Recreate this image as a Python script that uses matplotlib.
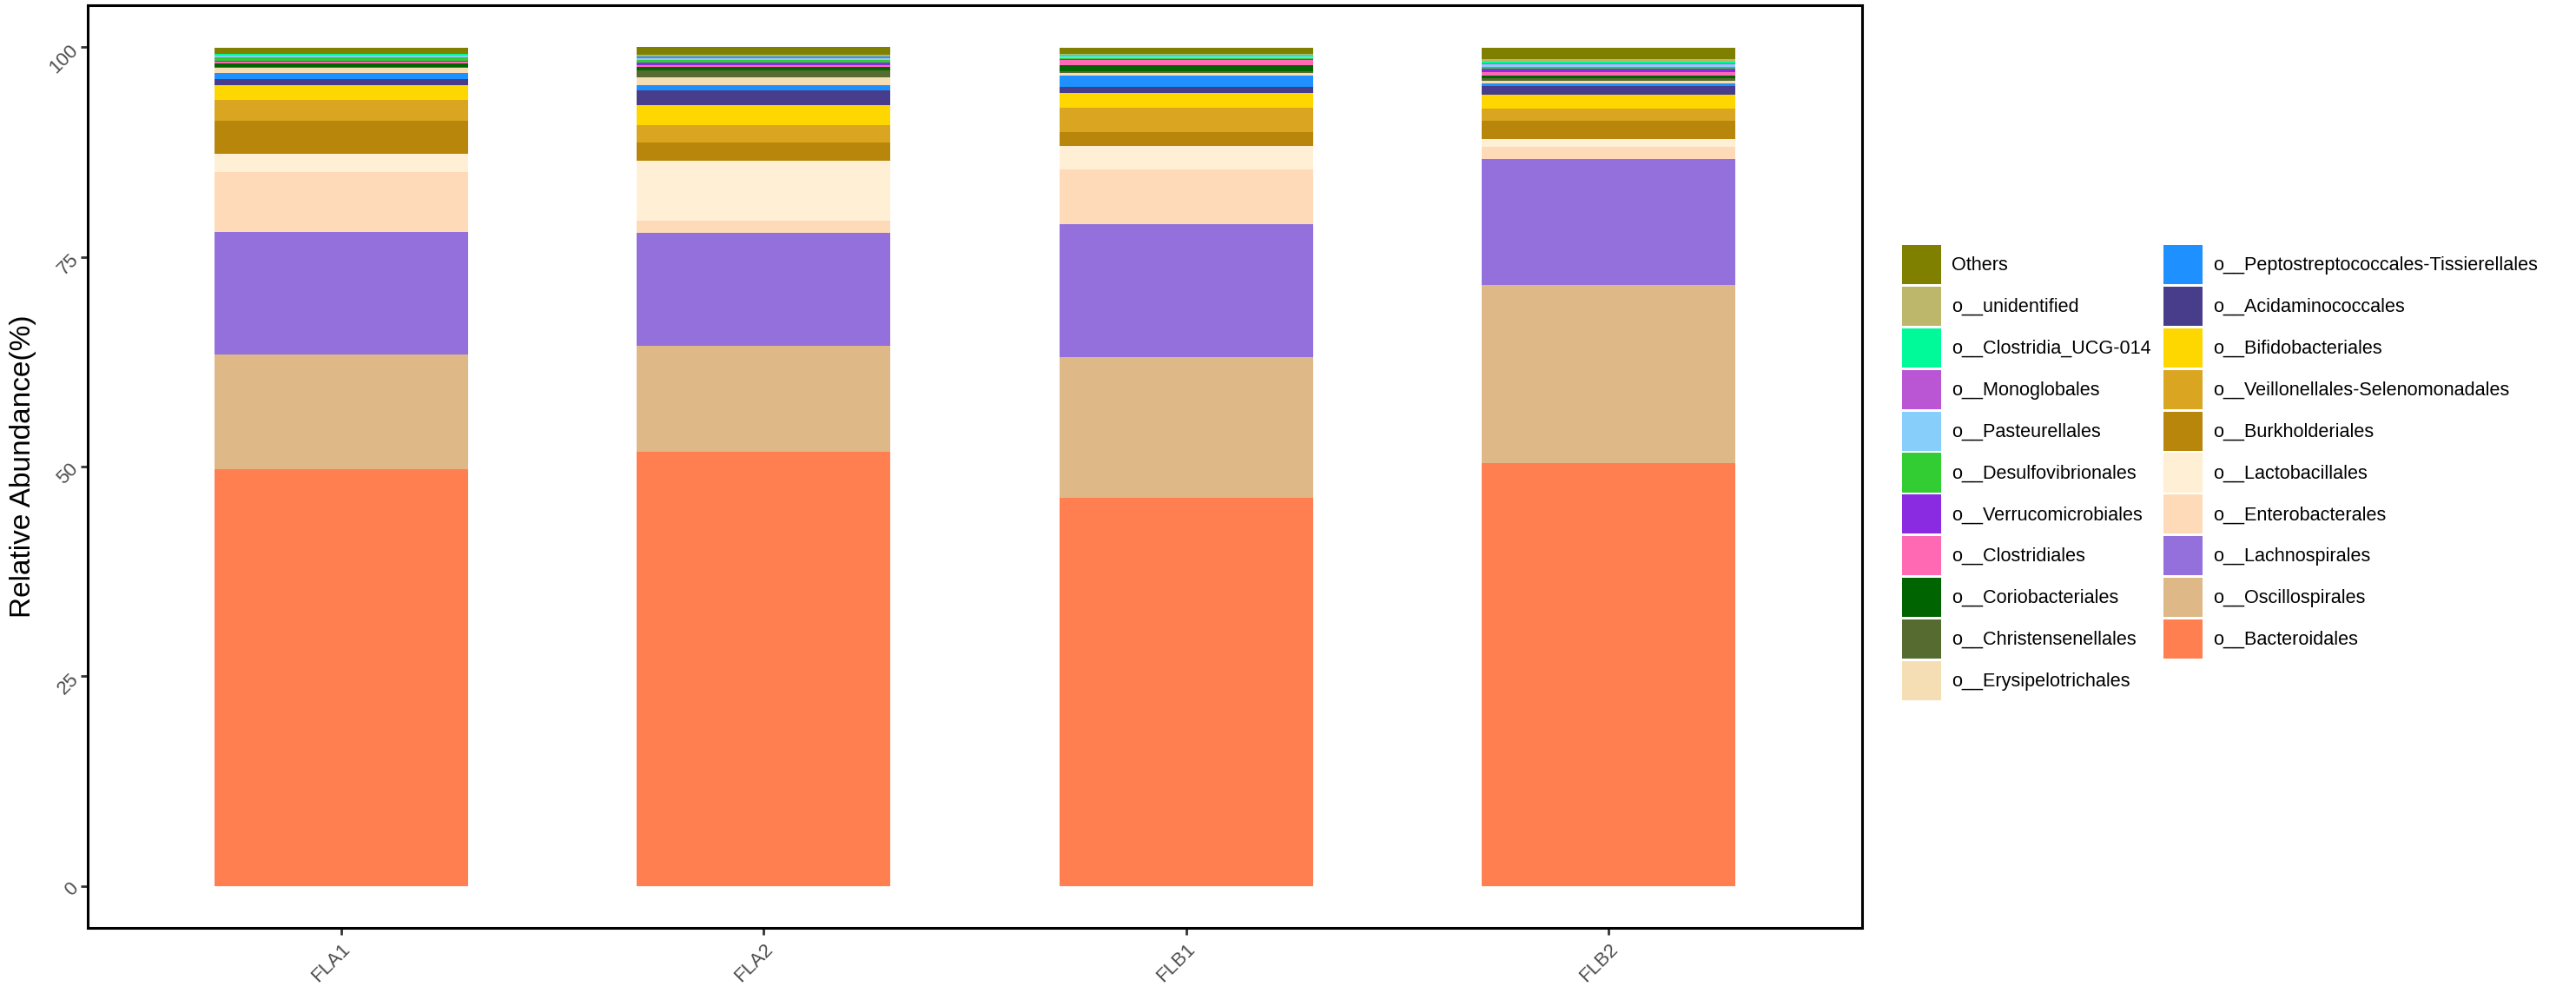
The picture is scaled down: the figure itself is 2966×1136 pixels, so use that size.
import numpy as np
import matplotlib
matplotlib.use("Agg")
import matplotlib.pyplot as plt
from matplotlib.patches import Patch

plt.rcParams['font.family'] = ['Liberation Sans', 'DejaVu Sans']

samples = ["FLA1", "FLA2", "FLB1", "FLB2"]

# stacking order, bottom -> top
taxa = ["o__Bacteroidales", "o__Oscillospirales", "o__Lachnospirales",
        "o__Enterobacterales", "o__Lactobacillales", "o__Burkholderiales",
        "o__Veillonellales-Selenomonadales", "o__Bifidobacteriales",
        "o__Acidaminococcales", "o__Peptostreptococcales-Tissierellales",
        "o__Erysipelotrichales", "o__Christensenellales", "o__Coriobacteriales",
        "o__Clostridiales", "o__Verrucomicrobiales", "o__Desulfovibrionales",
        "o__Pasteurellales", "o__Monoglobales", "o__Clostridia_UCG-014",
        "o__unidentified", "Others"]

colors = ["#FF7F50", "#DEB887", "#9370DB", "#FFDAB9", "#FFEFD5", "#B8860B",
          "#DAA520", "#FFD700", "#483D8B", "#1E90FF", "#F5DEB3", "#556B2F",
          "#006400", "#FF69B4", "#8A2BE2", "#32CD32", "#87CEFA", "#BA55D3",
          "#00FA9A", "#BDB76B", "#808000"]

FLA1 = [49.67, 13.64, 14.69, 7.11, 2.20, 3.92, 2.44, 1.79, 0.69, 0.76, 0.62,
        0.10, 0.41, 0.25, 0.10, 0.35, 0.25, 0.05, 0.15, 0.05, 0.72]
FLA2 = [51.71, 12.72, 13.43, 1.45, 7.17, 2.17, 2.10, 2.34, 1.79, 0.62, 0.93,
        0.79, 0.45, 0.20, 0.25, 0.38, 0.17, 0.17, 0.17, 0.07, 0.90]
FLB1 = [46.26, 16.81, 15.85, 6.52, 2.73, 1.70, 2.91, 1.73, 0.74, 1.36, 0.29,
        0.26, 0.66, 0.63, 0.12, 0.15, 0.15, 0.05, 0.15, 0.08, 0.77]
FLB2 = [50.46, 21.19, 15.04, 1.47, 0.88, 2.17, 1.44, 1.70, 1.00, 0.29, 0.37,
        0.26, 0.37, 0.37, 0.48, 0.15, 0.30, 0.15, 0.22, 0.22, 1.40]

data = np.array([FLA1, FLA2, FLB1, FLB2]).T   # rows = taxa, cols = samples
x = np.arange(len(samples))

fig = plt.figure(figsize=(14.83, 5.68), dpi=200)
ax = fig.add_axes([101/2966, 1-1068/1136, (2144-101)/2966, (1068-6)/1136])

bottom = np.zeros(len(samples))
for i in range(len(taxa)):
    ax.bar(x, data[i], bottom=bottom, width=0.6, color=colors[i], linewidth=0)
    bottom += data[i]

ax.set_xlim(-0.6, len(samples) - 0.4)
ax.set_ylim(-5, 105)
ax.set_xticks(x)
ax.set_xticklabels(samples, rotation=45, ha='right', va='top',
                   rotation_mode='anchor')
ax.set_yticks([0, 25, 50, 75, 100])
ax.set_yticklabels(['0', '25', '50', '75', '100'], rotation=45, ha='right',
                   va='center', rotation_mode='anchor')
ax.tick_params(colors='#333333', labelcolor='#4D4D4D', labelsize=8,
               length=3, width=1, pad=2)
for s in ax.spines.values():
    s.set_linewidth(1.1)
    s.set_color('black')
ax.set_ylabel("Relative Abundance(%)", fontsize=12, labelpad=4)

# legend: ggplot order (top of stack first), two columns
handles = [Patch(facecolor=colors[i], edgecolor='none', label=taxa[i])
           for i in range(len(taxa) - 1, -1, -1)]
fig.legend(handles=handles, ncol=2, loc='center left',
           bbox_to_anchor=(2190/2966, 1-544/1136), frameon=False,
           fontsize=7.8, handlelength=2.08, handleheight=2.82, labelspacing=0.13,
           handletextpad=0.55, columnspacing=0.65, borderpad=0, borderaxespad=0)

plt.savefig("out.png", dpi=200)
